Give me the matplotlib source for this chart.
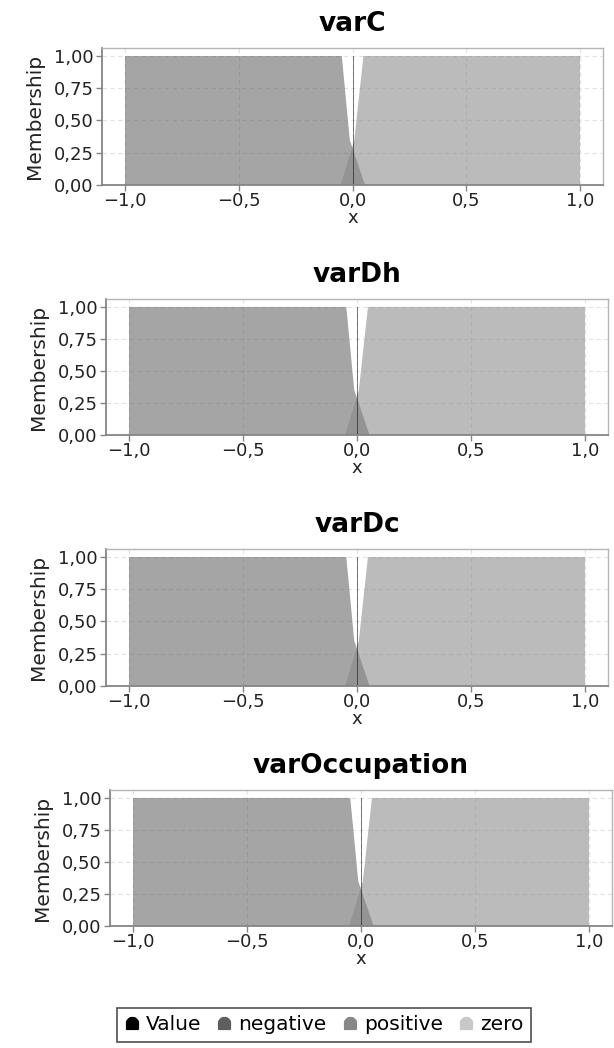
#!/usr/bin/env python3
"""Fuzzy membership charts for four linguistic variables (negative / zero / positive)."""

import numpy as np
import matplotlib
matplotlib.use('Agg')
import matplotlib.pyplot as plt
from matplotlib.path import Path
from matplotlib.lines import Line2D
from matplotlib.ticker import FuncFormatter

# Variables and membership polygons (same for every variable)
VARIABLES = ["varC", "varDh", "varDc", "varOccupation"]
NEG_X = [-1.0, -1.0, -0.047, -0.012, 0.055]
NEG_Y = [0.0, 1.0, 1.0, 0.35, 0.0]
POS_X = [-0.052, 0.008, 0.048, 1.0, 1.0]
POS_Y = [0.0, 0.35, 1.0, 1.0, 0.0]
VALUE_X = [0.0, 0.0]
VALUE_Y = [0.0, 1.0]
X_TICKS = [-1.0, -0.5, 0.0, 0.5, 1.0]
Y_TICKS = [0.0, 0.25, 0.5, 0.75, 1.0]
LEGEND_LABELS = ["Value", "negative", "positive", "zero"]

C_VALUE = "#000000"
C_NEG = "#5f5f5f"
C_POS = "#878787"
C_ZERO = "#c8c8c8"
ALPHA = 0.56

W, H = 614, 1048
# plot-area boxes in pixels: left, right, top, bottom
BOXES = [(102, 603, 48, 185), (106, 608, 299, 435),
         (106, 608, 549, 686), (110, 612, 790, 926)]


def comma(v, _pos, nd):
    s = f"{v:.{nd}f}".replace(".", ",")
    return s.replace("-", "\u2212")


def bell_marker():
    arc = Path.arc(0, 180)
    verts = [(1, -1.0), (1, 0.0)] + [tuple(v) for v in arc.vertices] + [(-1, 0.0), (-1, -1.0), (1, -1.0)]
    return Path(verts)


fig = plt.figure(figsize=(W / 100, H / 100), dpi=100)

for name, (l, r, t, b) in zip(VARIABLES, BOXES):
    ax = fig.add_axes([l / W, 1 - b / H, (r - l) / W, (b - t) / H])
    ax.fill(NEG_X, NEG_Y, color=C_NEG, alpha=ALPHA, lw=0)
    ax.fill(POS_X, POS_Y, color=C_POS, alpha=ALPHA, lw=0)
    ax.plot(VALUE_X, VALUE_Y, color=C_VALUE, lw=0.6, alpha=0.6)
    ax.set_xlim(-1.101, 1.101)
    ax.set_ylim(0, 1.062)
    ax.set_xticks(X_TICKS)
    ax.set_yticks(Y_TICKS)
    ax.xaxis.set_major_formatter(FuncFormatter(lambda v, p: comma(v, p, 1)))
    ax.yaxis.set_major_formatter(FuncFormatter(lambda v, p: comma(v, p, 2)))
    ax.set_axisbelow(True)
    ax.grid(True, color="#e2e2e2", ls=(0, (4, 3)), lw=0.8)
    for s in ("left", "bottom"):
        ax.spines[s].set_color("#858585")
        ax.spines[s].set_linewidth(1.3)
    for s in ("top", "right"):
        ax.spines[s].set_color("#b5b5b5")
        ax.spines[s].set_linewidth(1.0)
    ax.tick_params(direction="out", length=4, width=1, color="#858585",
                   labelsize=13, labelcolor="#222222")
    ax.tick_params(axis="x", pad=1)
    ax.tick_params(axis="y", pad=2)
    ax.set_title(name, fontsize=19, fontweight="bold", pad=12)
    ax.set_xlabel("x", fontsize=13, labelpad=-1, color="#222222")
    ax.set_ylabel("Membership", fontsize=14.5, labelpad=7, color="#222222")

mk = bell_marker()
handles = [Line2D([], [], ls="none", marker=mk, markersize=8.5, markerfacecolor=c,
                  markeredgecolor=c) for c in (C_VALUE, C_NEG, C_POS, C_ZERO)]
leg = fig.legend(handles, LEGEND_LABELS, loc="center", bbox_to_anchor=(324 / W, 1 - 1025 / H),
                 ncol=4, fontsize=14.5, frameon=True, fancybox=False, handlelength=0.7,
                 handletextpad=0.35, columnspacing=0.8, borderpad=0.35)
leg.get_frame().set_edgecolor("#222222")
leg.get_frame().set_linewidth(1.2)

fig.savefig("out.png", dpi=100)
